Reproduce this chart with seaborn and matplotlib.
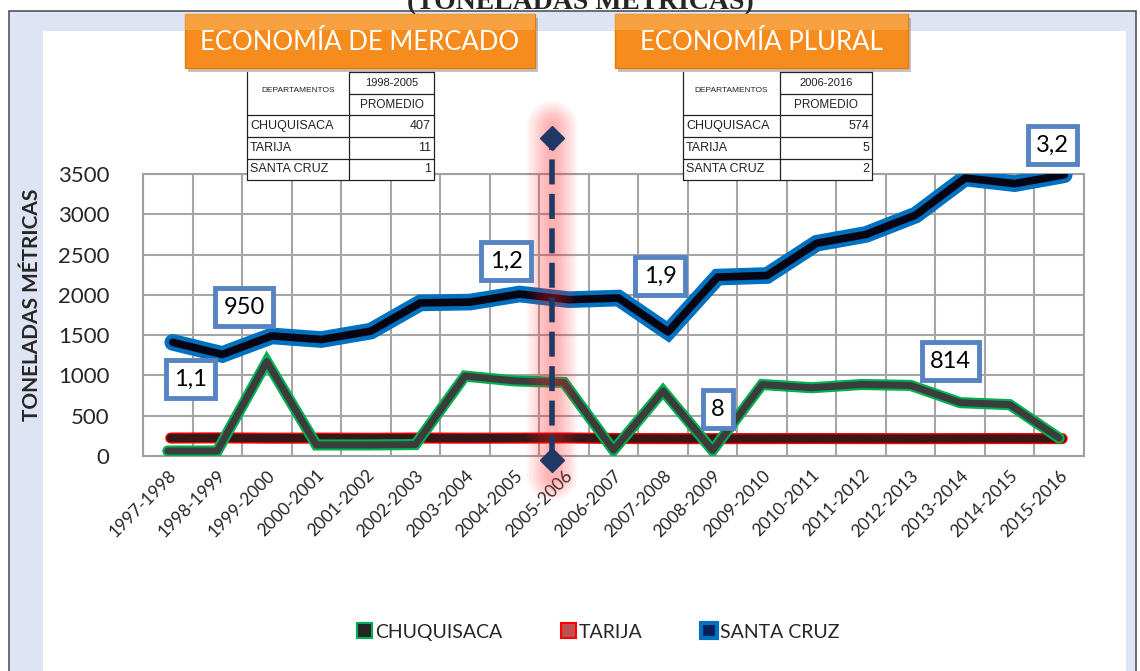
import matplotlib
matplotlib.use("Agg")
import matplotlib.pyplot as plt
import matplotlib.patheffects as pe
import matplotlib.transforms as mtransforms
from matplotlib.patches import Rectangle, Patch
from matplotlib.lines import Line2D
import seaborn as sns
import numpy as np

W, H = 1140, 671

# datos (toneladas métricas)
PERIODOS = ["1997-1998", "1998-1999", "1999-2000", "2000-2001", "2001-2002",
            "2002-2003", "2003-2004", "2004-2005", "2005-2006", "2006-2007",
            "2007-2008", "2008-2009", "2009-2010", "2010-2011", "2011-2012",
            "2012-2013", "2013-2014", "2014-2015", "2015-2016"]
CHUQUISACA = [0, 0, 1110, 75, 75, 80, 930, 870, 850, 10, 745, 8,
              825, 785, 825, 814, 600, 575, 160]
TARIJA = [12, 14, 10, 11, 9, 12, 10, 11, 13, 6, 5, 4, 5, 6, 5, 4, 5, 6, 5]
SANTA_CRUZ = [1100, 950, 1180, 1135, 1240, 1590, 1600, 1700, 1630, 1650,
              1230, 1910, 1930, 2330, 2440, 2680, 3140, 3070, 3180]

Y_TICKS = [0, 500, 1000, 1500, 2000, 2500, 3000, 3500]

CALLOUTS = ["1,1", "950", "1,2", "1,9", "8", "814", "3,2"]

DEPTOS = ["CHUQUISACA", "TARIJA", "SANTA CRUZ"]
PROM_1998_2005 = [407, 11, 1]
PROM_2006_2016 = [574, 5, 2]

sns.set_style("white")
plt.rcParams["font.family"] = ["Lato", "DejaVu Sans"]

fig = plt.figure(figsize=(W / 100, H / 100), dpi=100)
fig.patch.set_facecolor("white")


def fx(x):
    return x / W


def fy(y):
    return 1 - y / H


def frect(x0, y0, x1, y1, **kw):
    r = Rectangle((fx(x0), fy(y1)), fx(x1) - fx(x0), fy(y0) - fy(y1),
                  transform=fig.transFigure, **kw)
    fig.add_artist(r)
    return r


def fline(xs, ys, **kw):
    fig.add_artist(Line2D([fx(x) for x in xs], [fy(y) for y in ys],
                          transform=fig.transFigure, **kw))


# marco de fondo
frect(9, 11, 1136, 675, facecolor="#dfe4f4", edgecolor="#555555", lw=1.2, zorder=-10)
frect(43, 31, 1126, 675, facecolor="white", edgecolor="none", zorder=-9)
fig.text(fx(580), fy(9), "(TONELADAS MÉTRICAS)", ha="center", va="baseline",
         fontsize=20, fontweight="bold", family=["Liberation Serif", "DejaVu Serif"])

# ejes
ax = fig.add_axes([fx(143), fy(456), (1084 - 143) / W, (456 - 174) / H])
ax.patch.set_alpha(0)
idx = np.arange(len(PERIODOS))


def depth(dx, dy):
    return ax.transData + mtransforms.ScaledTranslation(dx / 100, dy / 100, fig.dpi_scale_trans)


sns.lineplot(x=idx, y=SANTA_CRUZ, ax=ax, color="#050514", linewidth=5.5, legend=False,
             transform=depth(5, 25), zorder=3,
             path_effects=[pe.Stroke(linewidth=12, foreground="#0070c0", joinstyle="miter"),
                           pe.Normal()])
sns.lineplot(x=idx, y=TARIJA, ax=ax, color="#3a1616", linewidth=6, legend=False,
             transform=depth(3, 17), zorder=4,
             path_effects=[pe.Stroke(linewidth=8, foreground="#ff0000", joinstyle="miter"),
                           pe.Normal()])
sns.lineplot(x=idx, y=CHUQUISACA, ax=ax, color="#3c3c3c", linewidth=5, legend=False,
             transform=depth(0, 5), zorder=5,
             path_effects=[pe.Stroke(linewidth=8, foreground="#00b050", joinstyle="miter"),
                           pe.Normal()])

ax.set_xlim(-0.5, len(PERIODOS) - 0.5)
ax.set_ylim(0, 3500)
ax.set_xlabel("")
ax.set_ylabel("")
ax.set_yticks(Y_TICKS)
ax.set_yticklabels([str(v) for v in Y_TICKS], fontsize=16)
ax.set_xticks(idx)
ax.set_xticklabels(PERIODOS, fontsize=12.5, rotation=45, ha="right", rotation_mode="anchor")
ax.set_xticks(np.arange(-0.5, len(PERIODOS)), minor=True)
ax.tick_params(axis="y", length=0, pad=24)
ax.tick_params(axis="x", which="both", length=0, pad=8)
ax.grid(axis="y", which="major", color="#a6a6a6", lw=1.5)
ax.grid(axis="x", which="minor", color="#a6a6a6", lw=1.5)
for s in ax.spines.values():
    s.set_color("#a0a0a0")
    s.set_linewidth(1.5)

fig.text(fx(32), fy(305), "TONELADAS MÉTRICAS", rotation=90, ha="center", va="center",
         fontsize=15, fontweight="bold")

# línea divisoria 2005-2006
DIV_X = 7.75
for lw in np.linspace(36, 8, 8):
    ax.plot([DIV_X, DIV_X], [-250, 4100], color="#ff2a2a", lw=lw, alpha=0.05,
            solid_capstyle="round", clip_on=False, zorder=6)
ax.plot([DIV_X, DIV_X], [-50, 3947], color="#1f3864", lw=4, linestyle=(0, (4.5, 1.7)),
        clip_on=False, zorder=7)
ax.plot([DIV_X, DIV_X], [-50, 3947], color="#1f3864", lw=0, marker="D", markersize=12,
        clip_on=False, zorder=7)

# etiquetas tipo globo
pos_callouts = [(0.46, 955), (1.54, 1849), (6.83, 2419), (9.94, 2233),
                (11.11, 583), (15.80, 1179), (17.86, 3859)]
for txt, (cx, cy) in zip(CALLOUTS, pos_callouts):
    ax.text(cx, cy, txt, ha="center", va="center", fontsize=17, color="black", zorder=8,
            clip_on=False,
            bbox=dict(boxstyle="square,pad=0.35", facecolor="white",
                      edgecolor="#5683c2", linewidth=3.5))

# cajas naranjas
for x0, x1, txt in [(185, 535, "ECONOMÍA DE MERCADO"), (615, 908, "ECONOMÍA PLURAL")]:
    frect(x0 + 3, 18, x1 + 3, 72, facecolor="#7a7a7a", edgecolor="none", alpha=0.45, zorder=4)
    frect(x0, 14, x1, 68, facecolor="#f68c1e", edgecolor="#e07b10", lw=1, zorder=5)
    frect(x0, 14, x1, 30, facecolor="#fbb45f", edgecolor="none", alpha=0.55, zorder=5)
    fig.text(fx((x0 + x1) / 2), fy(42), txt, ha="center", va="center", color="white",
             fontsize=18.5, zorder=6)


def draw_table(x0, xs, x1, periodo, valores):
    rows = [72, 94, 115, 137, 159, 180]
    frect(x0, rows[0], x1, rows[-1], facecolor="white", edgecolor="none", zorder=5)
    kw = dict(color="#222222", lw=0.9, zorder=6)
    fline([xs, x1], [rows[0], rows[0]], **kw)
    fline([xs, x1], [rows[1], rows[1]], **kw)
    for r in rows[2:]:
        fline([x0, x1], [r, r], **kw)
    for c in (x0, xs, x1):
        fline([c, c], [rows[0], rows[-1]], **kw)
    tkw = dict(family=["Liberation Sans", "DejaVu Sans"], color="#222222", zorder=7)
    fig.text(fx((x0 + xs) / 2), fy(91), "DEPARTAMENTOS", ha="center", va="center",
             fontsize=6, **tkw)
    fig.text(fx((xs + x1) / 2), fy((rows[0] + rows[1]) / 2), periodo, ha="center",
             va="center", fontsize=8, **tkw)
    fig.text(fx((xs + x1) / 2), fy((rows[1] + rows[2]) / 2), "PROMEDIO", ha="center",
             va="center", fontsize=8.5, **tkw)
    for i, (d, v) in enumerate(zip(DEPTOS, valores)):
        yc = (rows[2 + i] + rows[3 + i]) / 2
        fig.text(fx(x0 + 3), fy(yc), d, ha="left", va="center", fontsize=9, **tkw)
        fig.text(fx(x1 - 3), fy(yc), str(v), ha="right", va="center", fontsize=9, **tkw)


draw_table(247, 349, 434, "1998-2005", PROM_1998_2005)
draw_table(683, 780, 872, "2006-2016", PROM_2006_2016)

# leyenda
handles = [Patch(facecolor="#262626", edgecolor="#00b050", linewidth=1.5, label="CHUQUISACA"),
           Patch(facecolor="#c0504d", edgecolor="#ff0000", linewidth=1.5, label="TARIJA"),
           Patch(facecolor="#0a1f5c", edgecolor="#0070c0", linewidth=3, label="SANTA CRUZ")]
fig.legend(handles=handles, loc="center", bbox_to_anchor=(fx(598), fy(632)), ncol=3,
           frameon=False, fontsize=14, handlelength=0.8, handleheight=0.8,
           handletextpad=0.15, columnspacing=3.0)

fig.savefig("out.png", dpi=100)
